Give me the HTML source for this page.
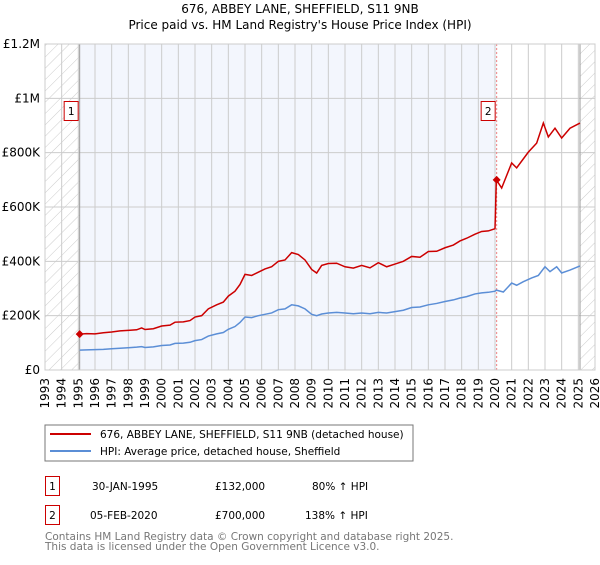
<!DOCTYPE html>
<html><head><meta charset="utf-8"><style>
body{margin:0;background:#fff;font-family:"Liberation Sans","DejaVu Sans",sans-serif;}
svg text{font-family:"DejaVu Sans","Liberation Sans",sans-serif;}
</style></head><body>
<svg id="c" width="600" height="560" viewBox="0 0 600 560" xmlns="http://www.w3.org/2000/svg">
<defs>
<pattern id="hatch" patternUnits="userSpaceOnUse" width="8" height="8" patternTransform="rotate(45)">
<rect width="8" height="8" fill="#fff"/><line x1="0" y1="0" x2="0" y2="8" stroke="#ccc" stroke-width="1"/>
</pattern>
</defs>
<text x="300" y="13" text-anchor="middle" font-size="12" fill="#000">676, ABBEY LANE, SHEFFIELD, S11 9NB</text>
<text x="300" y="29" text-anchor="middle" font-size="12" fill="#000">Price paid vs. HM Land Registry's House Price Index (HPI)</text>
<g id="plot"></g>
<rect x="45" y="425" width="368" height="36" fill="#fff" stroke="#777"/>
<line x1="50" y1="434" x2="91" y2="434" stroke="#cc0000" stroke-width="2"/>
<text x="100" y="438" font-size="10.5">676, ABBEY LANE, SHEFFIELD, S11 9NB (detached house)</text>
<line x1="50" y1="451" x2="91" y2="451" stroke="#5b8ed6" stroke-width="2"/>
<text x="100" y="455" font-size="10.5">HPI: Average price, detached house, Sheffield</text>
<g font-size="10.5">
<rect x="45.5" y="476.5" width="14" height="19" fill="none" stroke="#cc0000"/>
<text x="52.5" y="490" text-anchor="middle">1</text>
<text x="92" y="490">30-JAN-1995</text><text x="215" y="490">£132,000</text><text x="312" y="490">80% ↑ HPI</text>
</g>
<g font-size="10.5">
<rect x="45.5" y="505.5" width="14" height="19" fill="none" stroke="#cc0000"/>
<text x="52.5" y="519" text-anchor="middle">2</text>
<text x="90" y="519">05-FEB-2020</text><text x="215" y="519">£700,000</text><text x="305" y="519">138% ↑ HPI</text>
</g>
<text x="45" y="540" font-size="10.5" fill="#777">Contains HM Land Registry data © Crown copyright and database right 2025.</text>
<text x="45" y="550" font-size="10.5" fill="#777">This data is licensed under the Open Government Licence v3.0.</text>
</svg>
<script>
const hpiYears=[1995.08,1995.5,1996,1996.5,1997,1997.5,1998,1998.5,1998.8,1999,1999.5,2000,2000.5,2000.8,2001.3,2001.7,2002,2002.4,2002.8,2003.3,2003.7,2004,2004.4,2004.7,2005,2005.4,2005.8,2006.2,2006.6,2007,2007.4,2007.8,2008.2,2008.6,2009,2009.3,2009.6,2010,2010.5,2011,2011.5,2012,2012.5,2013,2013.5,2014,2014.5,2015,2015.5,2016,2016.5,2017,2017.5,2017.9,2018.3,2018.8,2019.2,2019.6,2020.0,2020.08,2020.5,2021,2021.3,2021.7,2022.2,2022.6,2023,2023.3,2023.7,2024,2024.5,2025.1];
const hpiValues=[73,74,75,76,78,80,82,84,86,83,85,90,92,98,99,102,108,112,125,133,138,150,160,175,195,193,200,205,210,222,225,240,236,225,205,200,206,210,212,210,207,210,207,212,210,215,220,230,232,240,245,252,258,265,270,280,284,286,290,294,287,320,312,325,339,348,380,362,380,357,368,383];
const priceYears=[1995.08,1995.5,1996,1996.5,1997,1997.5,1998,1998.5,1998.8,1999,1999.5,2000,2000.5,2000.8,2001.3,2001.7,2002,2002.4,2002.8,2003.3,2003.7,2004,2004.4,2004.7,2005,2005.4,2005.8,2006.2,2006.6,2007,2007.4,2007.8,2008.2,2008.6,2009,2009.3,2009.6,2010,2010.5,2011,2011.5,2012,2012.5,2013,2013.5,2014,2014.5,2015,2015.5,2016,2016.5,2017,2017.5,2017.9,2018.3,2018.8,2019.2,2019.6,2020.0,2020.08,2020.4,2021,2021.3,2022,2022.5,2022.9,2023.2,2023.6,2024,2024.5,2025.1];
const priceValues=[132,134,133,137,140,144,146,148,155,149,152,162,165,176,177,182,195,200,225,240,250,272,290,315,352,348,360,372,380,400,405,432,425,405,370,357,385,392,393,380,375,385,376,395,380,390,400,418,415,436,437,450,460,475,485,500,510,512,520,700,670,762,744,802,835,909,858,890,854,890,909];
const saleYears=[1995.08,2020.1];
const saleValues=[132,700];
const saleLabels=["1","2"];
const yTicks=[0,200,400,600,800,1000,1200];
const yTickLabels=["£0","£200K","£400K","£600K","£800K","£1M","£1.2M"];
const xTicks=[1993,1994,1995,1996,1997,1998,1999,2000,2001,2002,2003,2004,2005,2006,2007,2008,2009,2010,2011,2012,2013,2014,2015,2016,2017,2018,2019,2020,2021,2022,2023,2024,2025,2026];

const X0=45,X1=595,Y0=370,Y1=44;
const xs=y=>X0+(y-1993)/(2026-1993)*(X1-X0);
const ys=v=>Y0-v/1200*(Y0-Y1);
const NS="http://www.w3.org/2000/svg";
const g=document.getElementById('plot');
function mk(t,a,p){const e=document.createElementNS(NS,t);for(const k in a)e.setAttribute(k,a[k]);(p||g).appendChild(e);return e;}

let e;
e=mk('rect',{x:X0,y:Y1,width:X1-X0,height:Y0-Y1,fill:'#fff'});


e=mk('rect',{x:X0,y:Y1,width:xs(saleYears[0])-X0,height:Y0-Y1,fill:'url(#hatch)'});


e=mk('rect',{x:xs(2025.1),y:Y1,width:X1-xs(2025.1),height:Y0-Y1,fill:'url(#hatch)'});


e=mk('rect',{x:xs(saleYears[0]),y:Y1,width:xs(saleYears[1])-xs(saleYears[0]),height:Y0-Y1,fill:'#f3f6fd'});



xTicks.forEach(t=>{
  const x=xs(t);
  e=mk('line',{x1:x,y1:Y1,x2:x,y2:Y0,stroke:'#ccc','stroke-width':1});
  
  
  e=mk('text',{x:0,y:0,'font-size':12,'text-anchor':'end',transform:`translate(${x+4},${Y0+8}) rotate(-90)`});
  e.textContent=t;
  
  
});
yTicks.forEach((t,i)=>{
  const y=ys(t);
  e=mk('line',{x1:X0,y1:y,x2:X1,y2:y,stroke:'#ccc','stroke-width':1});
  
  
  e=mk('text',{x:X0-5,y:y+4,'font-size':12,'text-anchor':'end'});
  e.textContent=yTickLabels[i];
  
  
});
e=mk('line',{x1:xs(saleYears[0]),y1:Y1,x2:xs(saleYears[0]),y2:Y0,stroke:'#999','stroke-width':1});


e=mk('line',{x1:xs(2025.1),y1:Y1,x2:xs(2025.1),y2:Y0,stroke:'#999','stroke-width':1});


e=mk('line',{x1:xs(saleYears[1]),y1:Y1,x2:xs(saleYears[1]),y2:Y0,stroke:'#f08080','stroke-width':1,'stroke-dasharray':'2,2'});



e=mk('polyline',{points:hpiYears.map((y,i)=>xs(y)+','+ys(hpiValues[i])).join(' '),fill:'none',stroke:'#5b8ed6','stroke-width':1.5});


e=mk('polyline',{points:priceYears.map((y,i)=>xs(y)+','+ys(priceValues[i])).join(' '),fill:'none',stroke:'#cc0000','stroke-width':1.5});



saleYears.forEach((y,i)=>{
  const x=xs(y),yy=ys(saleValues[i]);
  e=mk('path',{d:`M${x-4},${yy} L${x},${yy-4} L${x+4},${yy} L${x},${yy+4}Z`,fill:'#cc0000'});
  
  
  e=mk('rect',{x:x-15.5,y:101.5,width:14,height:19,fill:'#fff',stroke:'#cc0000'});
  
  
  e=mk('text',{x:x-8.5,y:115,'font-size':10.5,'text-anchor':'middle'});
  e.textContent=saleLabels[i];
  
  
});
e=mk('rect',{x:X0,y:Y1,width:X1-X0,height:Y0-Y1,fill:'none',stroke:'#ccc'});


</script>
</body></html>
